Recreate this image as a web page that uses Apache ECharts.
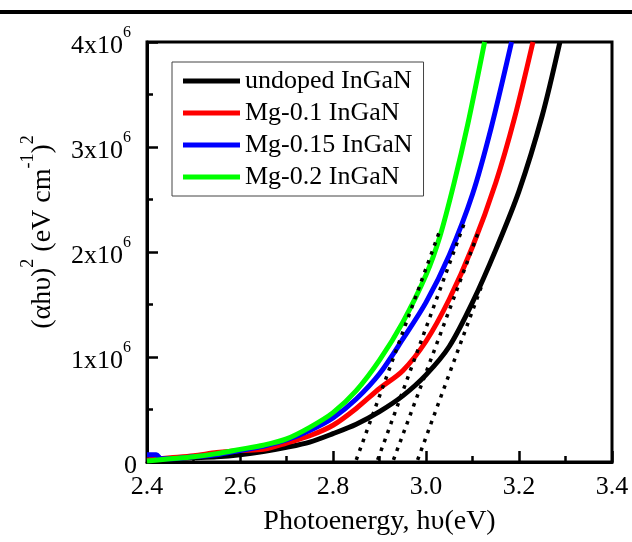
<!DOCTYPE html>
<html><head><meta charset="utf-8">
<script src="https://cdn.jsdelivr.net/npm/echarts@6/dist/echarts.min.js"></script>
<style>html,body{margin:0;padding:0;background:#fff}#c{width:632px;height:542px}</style>
</head><body><div id="c"></div>
<script>
// ---- data ----
const seriesNames = ['undoped InGaN', 'Mg-0.1 InGaN', 'Mg-0.15 InGaN', 'Mg-0.2 InGaN'];
const seriesColors = ['#000000', '#ff0000', '#0000ff', '#00ff00'];

// y values in units of 10^6 (eV cm^-1)^2
const undopedX = [2.40,2.45,2.50,2.55,2.60,2.65,2.70,2.75,2.80,2.85,2.90,2.95,3.00,3.05,3.10,3.15,3.20,3.25,3.288];
const undopedY = [0.02,0.03,0.04,0.05,0.07,0.10,0.14,0.19,0.27,0.36,0.48,0.63,0.83,1.10,1.52,2.02,2.58,3.30,4.00];

const mg01X = [2.40,2.45,2.50,2.55,2.60,2.65,2.70,2.75,2.80,2.85,2.90,2.95,3.00,3.05,3.10,3.15,3.19,3.23];
const mg01Y = [0.02,0.04,0.06,0.09,0.11,0.12,0.18,0.25,0.35,0.51,0.70,0.87,1.15,1.55,2.05,2.66,3.27,4.00];

const mg015X = [2.40,2.42,2.43,2.45,2.50,2.55,2.60,2.65,2.70,2.75,2.80,2.85,2.90,2.95,3.00,3.05,3.10,3.14,3.184];
const mg015Y = [0.07,0.07,0.03,0.03,0.05,0.07,0.11,0.15,0.21,0.30,0.42,0.60,0.84,1.17,1.52,1.97,2.55,3.18,4.00];

const mg02X = [2.40,2.45,2.50,2.55,2.60,2.65,2.70,2.75,2.80,2.85,2.90,2.95,3.00,3.03,3.06,3.09,3.126];
const mg02Y = [0.01,0.03,0.05,0.08,0.12,0.16,0.22,0.33,0.47,0.68,0.97,1.33,1.78,2.15,2.65,3.22,4.00];

// linear extrapolation (dotted) lines: undoped, Mg-0.1, Mg-0.15, Mg-0.2
const fitStartX = [2.982, 2.930, 2.896, 2.850];
const fitStartY = [0.02, 0.02, 0.02, 0.02];
const fitEndX = [3.120, 3.111, 3.082, 3.031];
const fitEndY = [1.68, 2.17, 2.27, 2.22];

const xTickLabels = ['2.4','2.6','2.8','3.0','3.2','3.4'];
const yTickLabels = ['0','1','2','3','4']; // x10^6

// ---- chart ----
const FONT = 'Liberation Serif';
const curvesX = [undopedX, mg01X, mg015X, mg02X];
const curvesY = [undopedY, mg01Y, mg015Y, mg02Y];
const legendText = { fontFamily: FONT, fontSize: 26, fontWeight: 'normal', color: '#000', lineHeight: 26 };

const series = [];
seriesNames.forEach((n, i) => {
  series.push({
    name: n, type: 'line', showSymbol: false, smooth: 0.3,
    data: curvesX[i].map((x, k) => [x, curvesY[i][k]]),
    lineStyle: { color: seriesColors[i], width: 5 },
    itemStyle: { color: seriesColors[i] },
    z: 2 + i
  });
});
fitStartX.forEach((x0, i) => {
  series.push({
    name: 'fit' + i, type: 'line', showSymbol: false,
    data: [[x0, fitStartY[i]], [fitEndX[i], fitEndY[i]]],
    lineStyle: { color: '#000', width: 3.5, type: [3.5, 6] },
    z: 10
  });
});

const chart = echarts.init(document.getElementById('c'), null, { renderer: 'canvas' });
chart.setOption({
  animation: false,
  backgroundColor: '#fff',
  textStyle: { fontFamily: FONT },
  graphic: [{ type: 'rect', shape: { x: 0, y: 10, width: 632, height: 4 }, style: { fill: '#000' } }],
  grid: { left: 147, right: 20, top: 42, bottom: 80, show: true, borderColor: '#000', borderWidth: 3 },
  legend: {
    data: seriesNames,
    orient: 'vertical', left: 172, top: 62,
    padding: [6, 11, 6, 11], itemGap: 6, itemWidth: 57, itemHeight: 5, icon: 'rect',
    borderColor: '#444', borderWidth: 1, backgroundColor: '#fff',
    textStyle: legendText
  },
  xAxis: {
    type: 'value', min: 2.4, max: 3.4, interval: 0.2,
    axisLine: { lineStyle: { color: '#000', width: 3 } },
    axisTick: { inside: true, length: 11, lineStyle: { color: '#000', width: 2.5 } },
    minorTick: { show: true, splitNumber: 2, length: 6, lineStyle: { color: '#000', width: 2.5 } },
    splitLine: { show: false },
    axisLabel: { color: '#000', fontFamily: FONT, fontSize: 26, margin: 12,
      formatter: v => xTickLabels[Math.round((v - 2.4) / 0.2)] },
    name: 'Photoenergy, h\u03c5(eV)', nameLocation: 'middle', nameGap: 46,
    nameTextStyle: { color: '#000', fontFamily: FONT, fontSize: 28 }
  },
  yAxis: {
    type: 'value', min: 0, max: 4, interval: 1,
    axisLine: { lineStyle: { color: '#000', width: 3 } },
    axisTick: { inside: true, length: 11, lineStyle: { color: '#000', width: 2.5 } },
    minorTick: { show: true, splitNumber: 2, length: 6, lineStyle: { color: '#000', width: 2.5 } },
    splitLine: { show: false },
    axisLabel: {
      margin: 10,
      formatter: v => { const t = yTickLabels[Math.round(v)]; return t === '0' ? '{m|0}' : '{m|' + t + 'x10}{s|6}'; },
      rich: {
        m: { fontFamily: FONT, fontSize: 26, color: '#000', lineHeight: 34, verticalAlign: 'bottom' },
        s: { fontFamily: FONT, fontSize: 16, color: '#000', lineHeight: 16, verticalAlign: 'top', padding: [0, 6, 0, 0] }
      }
    },
    name: '{m|(\u03b1h\u03c5)}{s|2}{m| (eV cm}{s|-1}{m|)}{s|2}',
    nameLocation: 'middle', nameRotate: 90, nameGap: 90,
    nameTextStyle: {
      padding: [0, 0, 0, 40],
      rich: {
        m: { fontFamily: FONT, fontSize: 28, color: '#000', lineHeight: 38, verticalAlign: 'bottom' },
        s: { fontFamily: FONT, fontSize: 18, color: '#000', lineHeight: 18, verticalAlign: 'top' }
      }
    }
  },
  series: series
});
</script></body></html>
